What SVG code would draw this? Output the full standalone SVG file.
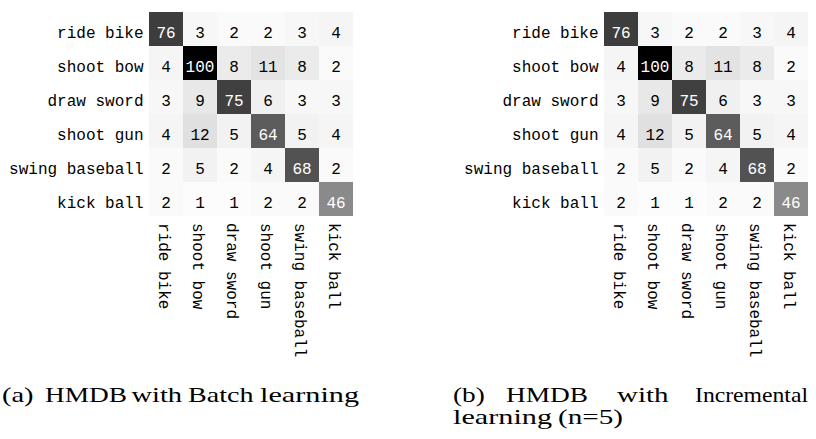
<svg xmlns="http://www.w3.org/2000/svg" xmlns:xlink="http://www.w3.org/1999/xlink" width="816" height="439" viewBox="0 0 816 439">
<style>
.t{font-family:"Liberation Mono","DejaVu Sans Mono",monospace;font-size:16px;fill:#000;}
.c{text-anchor:middle;}
.w{fill:#fff;}
.r{text-anchor:end;}
.cap{font-family:"Liberation Serif","DejaVu Serif",serif;font-size:21.5px;fill:#000;}
</style>
<defs>
<g id="matrix">
  <g id="cells">
    <rect x="149" y="12" width="34" height="34" fill="#3d3d3d"/>
    <rect x="183" y="12" width="34" height="34" fill="#f7f7f7"/>
    <rect x="217" y="12" width="34" height="34" fill="#fafafa"/>
    <rect x="251" y="12" width="34" height="34" fill="#fafafa"/>
    <rect x="285" y="12" width="34" height="34" fill="#f7f7f7"/>
    <rect x="319" y="12" width="34" height="34" fill="#f5f5f5"/>
    <rect x="149" y="46" width="34" height="34" fill="#f5f5f5"/>
    <rect x="183" y="46" width="34" height="34" fill="#000000"/>
    <rect x="217" y="46" width="34" height="34" fill="#ebebeb"/>
    <rect x="251" y="46" width="34" height="34" fill="#e3e3e3"/>
    <rect x="285" y="46" width="34" height="34" fill="#ebebeb"/>
    <rect x="319" y="46" width="34" height="34" fill="#fafafa"/>
    <rect x="149" y="80" width="34" height="34" fill="#f7f7f7"/>
    <rect x="183" y="80" width="34" height="34" fill="#e8e8e8"/>
    <rect x="217" y="80" width="34" height="34" fill="#404040"/>
    <rect x="251" y="80" width="34" height="34" fill="#f0f0f0"/>
    <rect x="285" y="80" width="34" height="34" fill="#f7f7f7"/>
    <rect x="319" y="80" width="34" height="34" fill="#f7f7f7"/>
    <rect x="149" y="114" width="34" height="34" fill="#f5f5f5"/>
    <rect x="183" y="114" width="34" height="34" fill="#e0e0e0"/>
    <rect x="217" y="114" width="34" height="34" fill="#f2f2f2"/>
    <rect x="251" y="114" width="34" height="34" fill="#5c5c5c"/>
    <rect x="285" y="114" width="34" height="34" fill="#f2f2f2"/>
    <rect x="319" y="114" width="34" height="34" fill="#f5f5f5"/>
    <rect x="149" y="148" width="34" height="34" fill="#fafafa"/>
    <rect x="183" y="148" width="34" height="34" fill="#f2f2f2"/>
    <rect x="217" y="148" width="34" height="34" fill="#fafafa"/>
    <rect x="251" y="148" width="34" height="34" fill="#f5f5f5"/>
    <rect x="285" y="148" width="34" height="34" fill="#525252"/>
    <rect x="319" y="148" width="34" height="34" fill="#fafafa"/>
    <rect x="149" y="182" width="34" height="34" fill="#fafafa"/>
    <rect x="183" y="182" width="34" height="34" fill="#fcfcfc"/>
    <rect x="217" y="182" width="34" height="34" fill="#fcfcfc"/>
    <rect x="251" y="182" width="34" height="34" fill="#fafafa"/>
    <rect x="285" y="182" width="34" height="34" fill="#fafafa"/>
    <rect x="319" y="182" width="34" height="34" fill="#8a8a8a"/>
  </g>
  <g id="values" class="t c">
    <text x="166" y="37.6" class="w">76</text><text x="200" y="37.6">3</text><text x="234" y="37.6">2</text><text x="268" y="37.6">2</text><text x="302" y="37.6">3</text><text x="336" y="37.6">4</text>
    <text x="166" y="71.6">4</text><text x="200" y="71.6" class="w">100</text><text x="234" y="71.6">8</text><text x="268" y="71.6">11</text><text x="302" y="71.6">8</text><text x="336" y="71.6">2</text>
    <text x="166" y="105.6">3</text><text x="200" y="105.6">9</text><text x="234" y="105.6" class="w">75</text><text x="268" y="105.6">6</text><text x="302" y="105.6">3</text><text x="336" y="105.6">3</text>
    <text x="166" y="139.6">4</text><text x="200" y="139.6">12</text><text x="234" y="139.6">5</text><text x="268" y="139.6" class="w">64</text><text x="302" y="139.6">5</text><text x="336" y="139.6">4</text>
    <text x="166" y="173.6">2</text><text x="200" y="173.6">5</text><text x="234" y="173.6">2</text><text x="268" y="173.6">4</text><text x="302" y="173.6" class="w">68</text><text x="336" y="173.6">2</text>
    <text x="166" y="207.6">2</text><text x="200" y="207.6">1</text><text x="234" y="207.6">1</text><text x="268" y="207.6">2</text><text x="302" y="207.6">2</text><text x="336" y="207.6" class="w">46</text>
  </g>
  <g id="rowlabels" class="t r">
    <text x="143.5" y="37.6">ride bike</text>
    <text x="143.5" y="71.6">shoot bow</text>
    <text x="143.5" y="105.6">draw sword</text>
    <text x="143.5" y="139.6">shoot gun</text>
    <text x="143.5" y="173.6">swing baseball</text>
    <text x="143.5" y="207.6">kick ball</text>
  </g>
  <g id="collabels" class="t">
    <text transform="translate(158.5,223) rotate(90)">ride bike</text>
    <text transform="translate(192.5,223) rotate(90)">shoot bow</text>
    <text transform="translate(226.5,223) rotate(90)">draw sword</text>
    <text transform="translate(260.5,223) rotate(90)">shoot gun</text>
    <text transform="translate(294.5,223) rotate(90)">swing baseball</text>
    <text transform="translate(328.5,223) rotate(90)">kick ball</text>
  </g>
</g>
</defs>
<g id="matrix-a"><use xlink:href="#matrix" href="#matrix"/></g>
<g id="matrix-b"><use xlink:href="#matrix" href="#matrix" transform="translate(455,0)"/></g>
<g id="caption-a" class="cap">
  <text x="2" y="402" textLength="31.6" lengthAdjust="spacingAndGlyphs">(a)</text>
  <text x="45" y="402" textLength="82" lengthAdjust="spacingAndGlyphs">HMDB</text>
  <text x="131.5" y="402" textLength="50.5" lengthAdjust="spacingAndGlyphs">with</text>
  <text x="188" y="402" textLength="65.5" lengthAdjust="spacingAndGlyphs">Batch</text>
  <text x="260" y="402" textLength="99" lengthAdjust="spacingAndGlyphs">learning</text>
</g>
<g id="caption-b" class="cap">
  <text x="453" y="402" textLength="31.8" lengthAdjust="spacingAndGlyphs">(b)</text>
  <text x="506" y="402" textLength="82" lengthAdjust="spacingAndGlyphs">HMDB</text>
  <text x="617" y="402" textLength="51.5" lengthAdjust="spacingAndGlyphs">with</text>
  <text x="695" y="402" textLength="113" lengthAdjust="spacingAndGlyphs">Incremental</text>
  <text x="453" y="424" textLength="99" lengthAdjust="spacingAndGlyphs">learning</text>
  <text x="558" y="424" textLength="65" lengthAdjust="spacingAndGlyphs">(n=5)</text>
</g>
</svg>
